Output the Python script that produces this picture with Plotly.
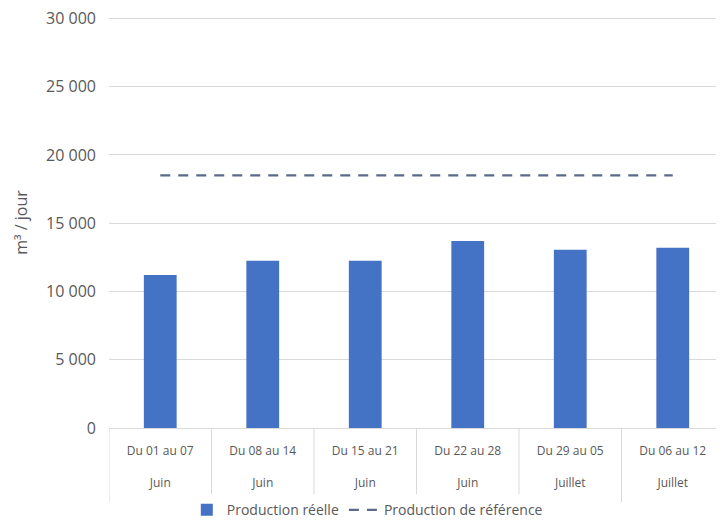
import plotly.graph_objects as go

periods = ["Du 01 au 07", "Du 08 au 14", "Du 15 au 21", "Du 22 au 28", "Du 29 au 05", "Du 06 au 12"]
months = ["Juin", "Juin", "Juin", "Juin", "Juillet", "Juillet"]
production_reelle = [11200, 12250, 12250, 13700, 13050, 13200]
production_reference = [18500, 18500, 18500, 18500, 18500, 18500]
y_ticks = [0, 5000, 10000, 15000, 20000, 25000, 30000]

labels = [f"{p}<br><br>{m}" for p, m in zip(periods, months)]
FONT = "Open Sans"
GRAY = "#595959"

fig = go.Figure()
fig.add_trace(go.Bar(
    x=labels, y=production_reelle, name="Production réelle",
    marker=dict(color="#4472C4", line=dict(width=0)),
))
fig.add_trace(go.Scatter(
    x=labels, y=production_reference, name="Production de référence",
    mode="lines", line=dict(color="#5a6b88", width=2.2, dash="10px,8px"),
))

# category separators below the axis (Excel style)
for i in range(len(labels) + 1):
    fig.add_shape(type="line", xref="x", yref="paper",
                  x0=i - 0.5, x1=i - 0.5, y0=0, y1=-0.18,
                  line=dict(color="#d9d9d9", width=1))

fig.update_layout(
    width=716, height=515,
    margin=dict(l=101, r=0, t=9, b=95, autoexpand=False),
    paper_bgcolor="white", plot_bgcolor="white",
    separators=", ",
    font=dict(family=FONT, color=GRAY, size=12),
    bargap=0.68,
    showlegend=True,
    legend=dict(orientation="h", x=0.42, xanchor="center", y=-0.2, yanchor="middle",
                font=dict(size=14, color=GRAY), traceorder="normal"),
)
fig.update_yaxes(
    range=[0, 30100], tickvals=y_ticks, tickformat=",", automargin=False,
    showgrid=True, gridcolor="#d9d9d9", gridwidth=1, zeroline=False,
    tickfont=dict(size=16, color=GRAY), ticklabelstandoff=12,
    ticklabeloverflow="allow",
    title=dict(text="m³ / jour", font=dict(size=16, color=GRAY), standoff=14),
)
fig.update_xaxes(
    showline=True, linecolor="#d9d9d9", linewidth=1, automargin=False,
    tickfont=dict(size=12, color=GRAY), ticks="", ticklabelstandoff=12,
    range=[-0.5, 5.5],
)

fig.write_html("out.html")
